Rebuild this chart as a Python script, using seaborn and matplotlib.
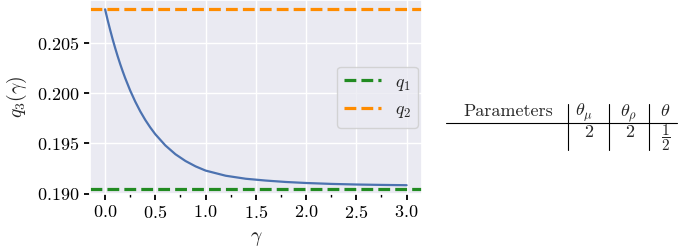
import numpy as np
import pandas as pd
import matplotlib
matplotlib.use("Agg")
import matplotlib.pyplot as plt
from matplotlib.lines import Line2D
from matplotlib.ticker import AutoMinorLocator
import seaborn as sns

# values
gamma = [0.0, 0.025, 0.05, 0.075, 0.1, 0.125, 0.15, 0.175, 0.2, 0.25, 0.3,
         0.35, 0.4, 0.45, 0.5, 0.6, 0.7, 0.8, 0.9, 1.0, 1.2, 1.4, 1.6, 1.8,
         2.0, 2.25, 2.5, 2.75, 3.0]
q3 = [0.2083, 0.20725, 0.20627, 0.20534, 0.20447, 0.20365, 0.20288, 0.20216,
      0.20148, 0.20024, 0.19915, 0.19818, 0.19733, 0.19658, 0.19591, 0.19480,
      0.19393, 0.19326, 0.19273, 0.19231, 0.19180, 0.19150, 0.19132, 0.19118,
      0.19108, 0.19099, 0.19093, 0.19089, 0.19086]
q1 = 0.1905
q2 = 0.2083

table_header = ["Parameters", r"$\theta_\mu$", r"$\theta_\rho$", r"$\theta$"]
table_row = ["", "$2$", "$2$", r"$\dfrac{1}{2}$"]

sns.set_theme(style="darkgrid")
plt.rcParams.update({
    "font.family": "serif",
    "font.serif": ["cmr10"],
    "mathtext.fontset": "cm",
    "axes.formatter.use_mathtext": True,
    "xtick.bottom": True,
    "ytick.left": True,
    "xtick.color": "black",
    "ytick.color": "black",
})

df = pd.DataFrame({"gamma": gamma, "q3": q3})

fig = plt.figure(figsize=(6.85, 2.48), dpi=100)
ax = fig.add_axes([0.1314, 0.2177, 0.4842, 0.7803])

sns.lineplot(data=df, x="gamma", y="q3", ax=ax, color="#4c72b0", linewidth=1.6)
ax.axhline(q1, color="forestgreen", linestyle="--", linewidth=2.3, label=r"$q_1$")
ax.axhline(q2, color="darkorange", linestyle="--", linewidth=2.3, label=r"$q_2$")

ax.set_yticks([0.190, 0.195, 0.200, 0.205])
ax.set_xticks([0.0, 0.5, 1.0, 1.5, 2.0, 2.5, 3.0])
ax.xaxis.set_minor_locator(AutoMinorLocator(2))
ax.tick_params(axis="both", which="major", length=4, width=1.3, labelsize=13)
ax.tick_params(axis="x", which="minor", length=2.5, width=1.0, bottom=True)
ax.set_xlabel(r"$\gamma$", fontsize=14, labelpad=6)
ax.set_ylabel(r"$q_3(\gamma)$", fontsize=14, labelpad=6)

ax.legend(loc="center right", fontsize=13, handlelength=2.0, borderaxespad=0.2)

# parameter table at the right
W, H = 685.0, 248.0
def fx(x):
    return x / W
def fy(y):
    return 1 - y / H

header_x = [508, 584, 628, 665]
row_x = [508, 589, 630, 666]
for x, t in zip(header_x, table_header):
    fig.text(fx(x), fy(116), t, ha="center", va="baseline", fontsize=13)
for x, t in zip(row_x[1:3], table_row[1:3]):
    fig.text(fx(x), fy(137), t, ha="center", va="baseline", fontsize=13)
fig.text(fx(row_x[3]), fy(138), table_row[3], ha="center", va="center", fontsize=11)

fig.add_artist(Line2D([fx(446), fx(677)], [fy(122.7), fy(122.7)],
                      color="black", linewidth=0.8))
for x in [567.7, 609, 649.3]:
    fig.add_artist(Line2D([fx(x), fx(x)], [fy(104), fy(150)],
                          color="black", linewidth=0.8))

fig.savefig("out.png", dpi=100)
